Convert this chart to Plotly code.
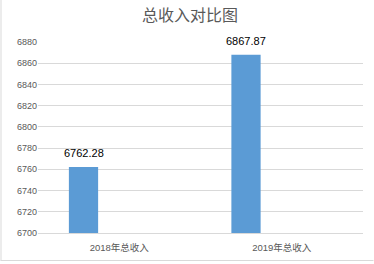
import plotly.graph_objects as go

categories = ["2018年总收入", "2019年总收入"]
values = [6762.28, 6867.87]
value_labels = ["6762.28", "6867.87"]
y_ticks = list(range(6700, 6881, 20))

W, H = 374, 264
ML, MR, MT, MB = 38, 11, 42, 31
PW, PH = W - ML - MR, H - MT - MB

BAR_W, BAR_OFF = 0.18, -0.31

def px_x(x):
    return (x - ML) / PW

def px_y(y):
    return (H - MB - y) / PH

font_main = "Liberation Sans, Noto Sans CJK SC, sans-serif"

fig = go.Figure()
fig.add_trace(go.Bar(
    x=categories, y=values,
    marker=dict(color="#5B9BD5", line=dict(width=0)),
    width=BAR_W, offset=BAR_OFF,
))

cat_px = PW / 2
for c, v, t in zip(categories, values, value_labels):
    fig.add_annotation(x=c, y=v, text=t, showarrow=False,
                       xanchor="center", yanchor="bottom",
                       xshift=(BAR_OFF + BAR_W / 2) * cat_px, yshift=6,
                       font=dict(size=11, color="#000000", family=font_main))

fig.update_layout(
    width=W, height=H,
    margin=dict(l=ML, r=MR, t=MT, b=MB, pad=0),
    paper_bgcolor="white", plot_bgcolor="white",
    showlegend=False,
    title=dict(text="总收入对比图", x=190 / W, xanchor="center",
               y=1 - 15 / H, yanchor="middle",
               font=dict(size=16, color="#595959", family="Noto Sans CJK SC, sans-serif")),
    xaxis=dict(showgrid=False, showline=True, linecolor="#D9D9D9", linewidth=1,
               ticks="", ticklabelstandoff=6,
               tickfont=dict(size=9.5, color="#595959", family=font_main),
               range=[-0.5, 1.5], fixedrange=True),
    yaxis=dict(range=[6700, 6880], tickvals=y_ticks, ticktext=[str(v) for v in y_ticks],
               showgrid=True, gridcolor="#D9D9D9", gridwidth=1,
               zeroline=False, showline=False, ticks="",
               tickfont=dict(size=9, color="#595959", family=font_main)),
    shapes=[
        dict(type="line", xref="paper", yref="paper",
             x0=px_x(1), x1=px_x(1), y0=px_y(0), y1=px_y(260.5),
             line=dict(color="#D9D9D9", width=1)),
        dict(type="line", xref="paper", yref="paper",
             x0=px_x(0.5), x1=px_x(373.5), y0=px_y(260.5), y1=px_y(260.5),
             line=dict(color="#D9D9D9", width=1)),
    ],
)

fig.write_html("out.html")
